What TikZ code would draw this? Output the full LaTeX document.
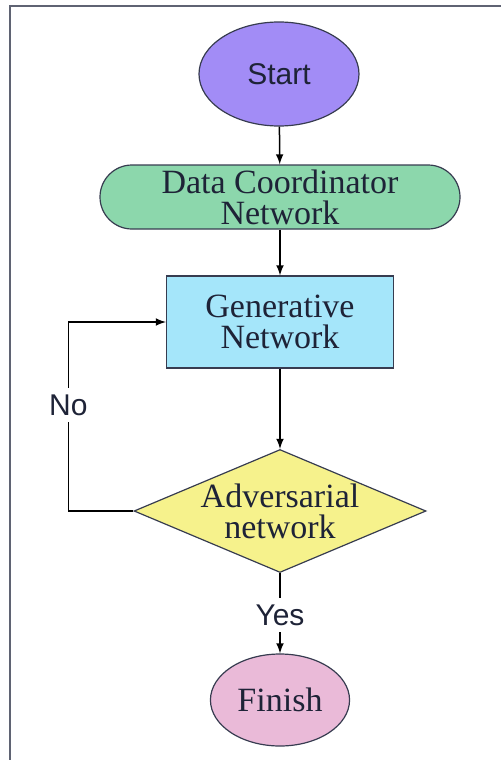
\documentclass[tikz,border=0pt]{standalone}
\usepackage{fontspec}
\setmainfont{Liberation Serif}
\setsansfont{Liberation Sans}
\usetikzlibrary{shapes.geometric,positioning}

\definecolor{edge}{RGB}{55,60,80}
\definecolor{ink}{RGB}{30,35,55}
\definecolor{startfill}{RGB}{162,140,246}
\definecolor{datafill}{RGB}{140,215,172}
\definecolor{genfill}{RGB}{165,230,250}
\definecolor{advfill}{RGB}{246,242,140}
\definecolor{endfill}{RGB}{234,186,216}

\begin{document}
\begin{tikzpicture}[x=0.5pt,y=-0.5pt,
        block/.style={draw=edge,line width=0.6pt,text=ink,align=center,
            font=\fontsize{17}{15.5}\selectfont},
        sanslabel/.style={text=ink,font=\sffamily\fontsize{15}{18}\selectfont},
        flow/.style={-latex,line width=0.75pt,black}]
        \useasboundingbox (0,0) rectangle (501,760);
        % outer frame
        \draw[line width=1pt,color=edge!80] (10,760) -- (10,6) -- (501,6);

        \node[block,ellipse,fill=startfill,minimum width=80pt,minimum height=52pt,
            font=\sffamily\fontsize{15}{18}\selectfont] (start) at (279,74) {Start};
        \node[block,rounded corners=16pt,fill=datafill,minimum width=180pt,minimum height=32pt,
            inner sep=0pt] (data) at (280,197) {Data Coordinator\\Network};
        \node[block,rectangle,fill=genfill,minimum width=113.5pt,minimum height=46pt] (gen) at (280,322) {Generative\\Network};
        \node[block,diamond,aspect=2.37,inner sep=-1pt,fill=advfill,minimum width=146pt,minimum height=61.5pt] (adv) at (280,511) {Adversarial\\network};
        \node[block,ellipse,fill=endfill,minimum width=69pt,minimum height=46pt] (finish) at (280,700) {Finish};

        \draw[flow] (start) -- (data);
        \draw[flow] (data) -- (gen);
        \draw[flow] (gen) -- (adv);
        \draw[flow] (adv) -- node[sanslabel,fill=white,pos=0.52]{Yes} (finish);
        \draw[flow] (adv.west) -- ++(-65,0) |- node[sanslabel,fill=white,pos=0.28]{No} (gen.west);
    \end{tikzpicture}
\end{document}
